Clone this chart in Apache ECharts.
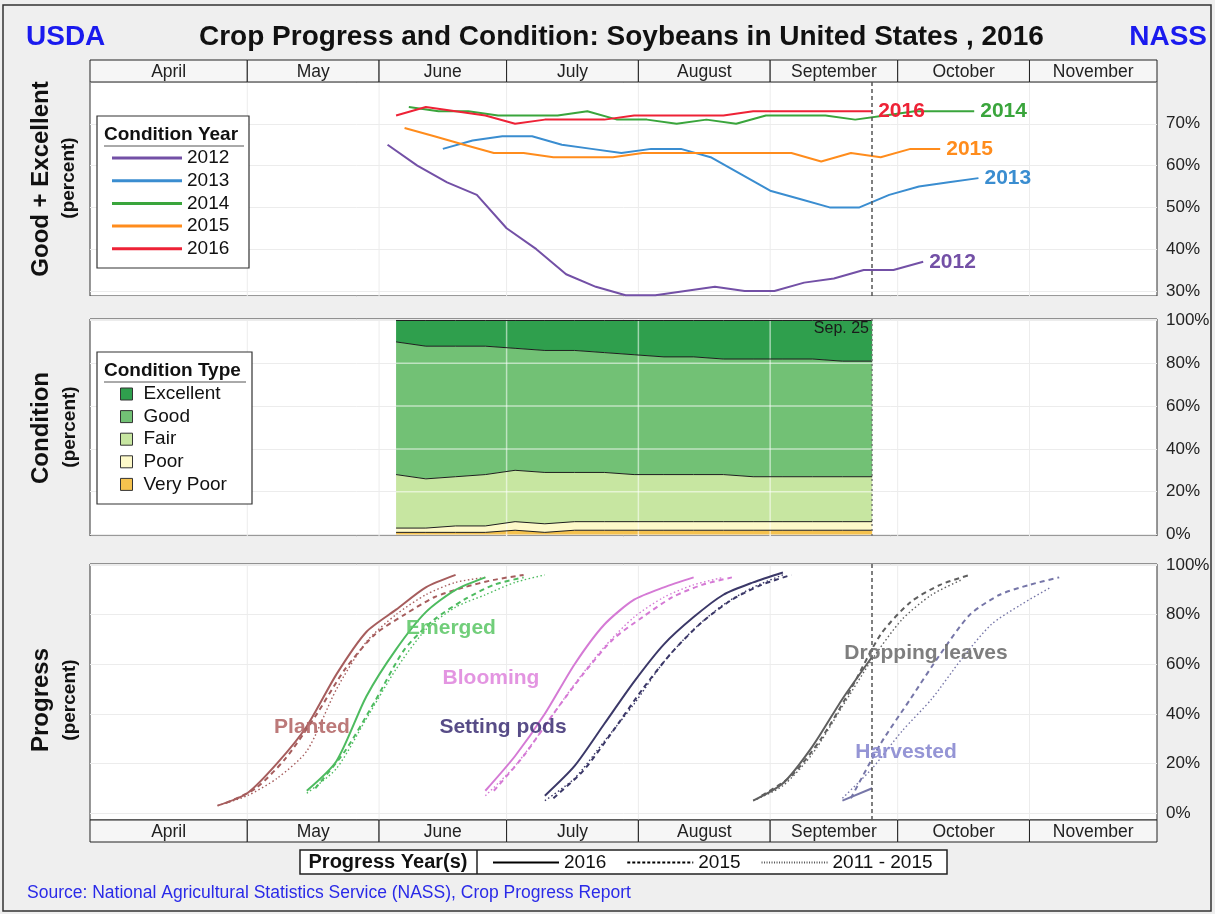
<!DOCTYPE html>
<html>
<head>
<meta charset="utf-8">
<title>Crop Progress and Condition: Soybeans in United States, 2016</title>
<script src="https://cdn.jsdelivr.net/npm/echarts@6.0.0/dist/echarts.min.js"></script>
<style>
  html, body { margin: 0; padding: 0; background: #efefef; }
  #chart { width: 1215px; height: 914px; }
</style>
</head>
<body>
<div id="chart"></div>
<script>
const FONT = 'Liberation Sans, Arial, Helvetica, sans-serif';
// all weeks are placed on the 2016 calendar (month-day)
const t = md => new Date(2016, +md.slice(0, 2) - 1, +md.slice(3)).getTime();
const pts = (dates, vals) => dates.map((d, i) => [t(d), vals[i]]);

// month bands
const months = ['April', 'May', 'June', 'July', 'August', 'September', 'October', 'November'];
const monthStart = ['03-25', '05-01', '06-01', '07-01', '08-01', '09-01', '10-01', '11-01'];
const monthEnd = ['05-01', '06-01', '07-01', '08-01', '09-01', '10-01', '11-01', '12-01'];
const monthLines = ['05-01', '06-01', '07-01', '08-01', '09-01', '10-01', '11-01'];
const currentWeek = '09-25';

// Good + Excellent by year
const ge2012Dates = ['06-03', '06-10', '06-17', '06-24', '07-01', '07-08', '07-15', '07-22', '07-29', '08-05', '08-12', '08-19', '08-26', '09-02', '09-09', '09-16', '09-23', '09-30', '10-07'];
const ge2012 = [65, 60, 56, 53, 45, 40, 34, 31, 29, 29, 30, 31, 30, 30, 32, 33, 35, 35, 37];
const ge2013Dates = ['06-16', '06-23', '06-30', '07-07', '07-14', '07-21', '07-28', '08-04', '08-11', '08-18', '08-25', '09-01', '09-08', '09-15', '09-22', '09-29', '10-06', '10-13', '10-20'];
const ge2013 = [64, 66, 67, 67, 65, 64, 63, 64, 64, 62, 58, 54, 52, 50, 50, 53, 55, 56, 57];
const ge2014Dates = ['06-08', '06-15', '06-22', '06-29', '07-06', '07-13', '07-20', '07-27', '08-03', '08-10', '08-17', '08-24', '08-31', '09-07', '09-14', '09-21', '09-28', '10-05', '10-12', '10-19'];
const ge2014 = [74, 73, 73, 72, 72, 72, 73, 71, 71, 70, 71, 70, 72, 72, 72, 71, 72, 73, 73, 73];
const ge2015Dates = ['06-07', '06-14', '06-21', '06-28', '07-05', '07-12', '07-19', '07-26', '08-02', '08-09', '08-16', '08-23', '08-30', '09-06', '09-13', '09-20', '09-27', '10-04', '10-11'];
const ge2015 = [69, 67, 65, 63, 63, 62, 62, 62, 63, 63, 63, 63, 63, 63, 61, 63, 62, 64, 64];
const ge2016Dates = ['06-05', '06-12', '06-19', '06-26', '07-03', '07-10', '07-17', '07-24', '07-31', '08-07', '08-14', '08-21', '08-28', '09-04', '09-11', '09-18', '09-25'];
const ge2016 = [72, 74, 73, 72, 70, 71, 71, 71, 72, 72, 72, 72, 73, 73, 73, 73, 73];

// 2016 condition by type
const condDates = ge2016Dates;
const veryPoor = [1, 1, 1, 1, 2, 1, 2, 2, 2, 2, 2, 2, 2, 2, 2, 2, 2];
const poor = [2, 2, 3, 3, 4, 4, 4, 4, 4, 4, 4, 4, 4, 4, 4, 4, 4];
const fair = [25, 23, 23, 24, 24, 24, 23, 23, 22, 22, 22, 22, 21, 21, 21, 21, 21];
const good = [62, 62, 61, 60, 57, 57, 57, 56, 56, 55, 55, 54, 55, 55, 55, 54, 54];
const excellent = [10, 12, 12, 12, 13, 14, 14, 15, 16, 17, 17, 18, 18, 18, 18, 19, 19];
const condGridY = [20, 40, 60, 80];
const condGridX = ['07-01', '08-01', '09-01'];

// progress
const plant16Dates = ['04-24', '05-01', '05-08', '05-15', '05-22', '05-29', '06-05', '06-12', '06-19'];
const plant16 = [3, 8, 20, 35, 56, 73, 82, 91, 96];
const plant15Dates = ['04-26', '05-03', '05-10', '05-17', '05-24', '05-31', '06-07', '06-14', '06-21', '06-28', '07-05'];
const plant15 = [4, 10, 22, 39, 58, 72, 80, 87, 91, 94, 96];
const plantAvgDates = ['04-24', '05-01', '05-08', '05-15', '05-22', '05-29', '06-05', '06-12', '06-19', '06-26'];
const plantAvg = [3, 7, 14, 25, 50, 69, 80, 88, 93, 95];

const emerg16Dates = ['05-15', '05-22', '05-29', '06-05', '06-12', '06-19', '06-26'];
const emerg16 = [9, 21, 47, 66, 81, 90, 95];
const emerg15Dates = ['05-17', '05-24', '05-31', '06-07', '06-14', '06-21', '06-28', '07-05'];
const emerg15 = [10, 25, 45, 66, 78, 86, 92, 95];
const emergAvgDates = ['05-15', '05-22', '05-29', '06-05', '06-12', '06-19', '06-26', '07-03', '07-10'];
const emergAvg = [8, 18, 38, 58, 74, 83, 88, 93, 96];

const bloom16Dates = ['06-26', '07-03', '07-10', '07-17', '07-24', '07-31', '08-07', '08-14'];
const bloom16 = [9, 23, 40, 60, 76, 86, 91, 95];
const bloom15Dates = ['06-28', '07-05', '07-12', '07-19', '07-26', '08-02', '08-09', '08-16', '08-23'];
const bloom15 = [9, 23, 40, 56, 70, 79, 87, 92, 95];
const bloomAvgDates = ['06-26', '07-03', '07-10', '07-17', '07-24', '07-31', '08-07', '08-14', '08-21'];
const bloomAvg = [7, 19, 35, 52, 67, 79, 87, 92, 95];

const pods16Dates = ['07-10', '07-17', '07-24', '07-31', '08-07', '08-14', '08-21', '08-28', '09-04'];
const pods16 = [7, 19, 36, 53, 68, 79, 88, 93, 97];
const pods15Dates = ['07-12', '07-19', '07-26', '08-02', '08-09', '08-16', '08-23', '08-30', '09-06'];
const pods15 = [6, 17, 33, 50, 65, 77, 86, 92, 96];
const podsAvgDates = ['07-10', '07-17', '07-24', '07-31', '08-07', '08-14', '08-21', '08-28', '09-04'];
const podsAvg = [5, 14, 29, 44, 61, 74, 84, 91, 96];

const drop16Dates = ['08-28', '09-04', '09-11', '09-18', '09-25'];
const drop16 = [5, 12, 27, 46, 63];
const drop15Dates = ['08-30', '09-06', '09-13', '09-20', '09-27', '10-04', '10-11', '10-18'];
const drop15 = [7, 15, 30, 50, 72, 85, 92, 96];
const dropAvgDates = ['08-28', '09-04', '09-11', '09-18', '09-25', '10-02', '10-09', '10-16'];
const dropAvg = [5, 11, 24, 43, 62, 78, 88, 94];

const harv16Dates = ['09-18', '09-25'];
const harv16 = [5, 10];
const harv15Dates = ['09-20', '09-27', '10-04', '10-11', '10-18', '10-25', '11-01', '11-08'];
const harv15 = [6, 28, 46, 64, 80, 88, 92, 95];
const harvAvgDates = ['09-18', '09-25', '10-02', '10-09', '10-16', '10-23', '10-30', '11-06'];
const harvAvg = [6, 18, 33, 46, 62, 76, 84, 91];

const condYears = [
  { name: '2012', color: '#7350a6', dates: ge2012Dates, vals: ge2012 },
  { name: '2013', color: '#3a8dd0', dates: ge2013Dates, vals: ge2013 },
  { name: '2014', color: '#3aa53c', dates: ge2014Dates, vals: ge2014 },
  { name: '2015', color: '#ff8c1c', dates: ge2015Dates, vals: ge2015 },
  { name: '2016', color: '#ee2236', dates: ge2016Dates, vals: ge2016 }
];
const condTypes = [
  { name: 'Very Poor', color: '#f5c24e', vals: veryPoor },
  { name: 'Poor', color: '#fdf9c9', vals: poor },
  { name: 'Fair', color: '#c7e6a1', vals: fair },
  { name: 'Good', color: '#72c175', vals: good },
  { name: 'Excellent', color: '#2f9f4d', vals: excellent }
];
const stages = [
  { name: 'Planted', color: '#a65d5d', d16: plant16Dates, v16: plant16, d15: plant15Dates, v15: plant15, dAvg: plantAvgDates, vAvg: plantAvg },
  { name: 'Emerged', color: '#4dbb5f', d16: emerg16Dates, v16: emerg16, d15: emerg15Dates, v15: emerg15, dAvg: emergAvgDates, vAvg: emergAvg },
  { name: 'Blooming', color: '#d57ad5', d16: bloom16Dates, v16: bloom16, d15: bloom15Dates, v15: bloom15, dAvg: bloomAvgDates, vAvg: bloomAvg },
  { name: 'Setting pods', color: '#3b3868', d16: pods16Dates, v16: pods16, d15: pods15Dates, v15: pods15, dAvg: podsAvgDates, vAvg: podsAvg },
  { name: 'Dropping leaves', color: '#5f5f5f', d16: drop16Dates, v16: drop16, d15: drop15Dates, v15: drop15, dAvg: dropAvgDates, vAvg: dropAvg },
  { name: 'Harvested', color: '#7676a8', d16: harv16Dates, v16: harv16, d15: harv15Dates, v15: harv15, dAvg: harvAvgDates, vAvg: harvAvg }
];
const styles = {
  solid: { width: 2, type: 'solid' },
  dashed: { width: 2, type: [5, 4] },
  dotted: { width: 1.4, type: [1.5, 2.5] }
};

const chart = echarts.init(document.getElementById('chart'));

function bandSeries(idx) {
  return {
    type: 'custom', xAxisIndex: idx, yAxisIndex: idx, silent: true,
    data: months.map((m, i) => [t(monthStart[i]), t(monthEnd[i])]),
    renderItem: (params, api) => {
      const a = api.coord([api.value(0), 1]);
      const b = api.coord([api.value(1), 0]);
      return {
        type: 'group', children: [
          { type: 'rect', shape: { x: a[0], y: a[1], width: b[0] - a[0], height: b[1] - a[1] },
            style: { fill: '#f6f6f6', stroke: '#222', lineWidth: 1 } },
          { type: 'text', style: { text: months[params.dataIndex], x: (a[0] + b[0]) / 2, y: (a[1] + b[1]) / 2 + 1,
            align: 'center', verticalAlign: 'middle', fontSize: 17.5, fontFamily: FONT, fill: '#222' } }
        ]
      };
    }
  };
}

function vGrid(idx, dates, color, z) {
  return {
    type: 'custom', xAxisIndex: idx, yAxisIndex: idx, silent: true, z: z,
    data: dates.map(d => [t(d), 50]),
    renderItem: (params, api) => {
      const cs = params.coordSys;
      const x = api.coord([api.value(0), 50])[0];
      return { type: 'line', shape: { x1: x, y1: cs.y, x2: x, y2: cs.y + cs.height },
        style: { stroke: color, lineWidth: color.indexOf('255') > 0 ? 1.5 : 1 } };
    }
  };
}

const weekLine = {
  silent: true, symbol: ['none', 'none'], label: { show: false },
  lineStyle: { color: '#555', type: [4, 3], width: 1.5 },
  data: [{ xAxis: t(currentWeek) }]
};

const series = [];
series.push(bandSeries(0), bandSeries(4));
series.push(vGrid(1, monthLines, '#ececec', 1), vGrid(2, monthLines, '#ececec', 1), vGrid(3, monthLines, '#ececec', 1));

// panel 1: good + excellent
condYears.forEach(c => {
  series.push({
    type: 'line', name: c.name, xAxisIndex: 1, yAxisIndex: 1, symbol: 'none',
    data: pts(c.dates, c.vals),
    itemStyle: { color: c.color }, lineStyle: { color: c.color, width: 2 },
    endLabel: { show: true, formatter: '{a}', color: c.color, fontSize: 21, fontWeight: 'bold', fontFamily: FONT, distance: 6 },
    markLine: c.name === '2016' ? weekLine : undefined
  });
});

// panel 2: condition stack
condTypes.forEach(c => {
  series.push({
    type: 'line', name: c.name, xAxisIndex: 2, yAxisIndex: 2, stack: 'cond', symbol: 'none',
    data: pts(condDates, c.vals),
    itemStyle: { color: c.color }, lineStyle: { color: '#1e1e1e', width: 1 },
    areaStyle: { color: c.color, opacity: 1 },
    markLine: c.name === 'Excellent' ? Object.assign({}, weekLine, { lineStyle: { color: '#777', type: [2, 3], width: 1.5 } }) : undefined
  });
});
series.push({
  type: 'custom', xAxisIndex: 2, yAxisIndex: 2, silent: true, z: 3,
  data: condGridY.map(v => [t(condDates[0]), v]),
  renderItem: (params, api) => {
    const p0 = api.coord([t(condDates[0]), api.value(1)]);
    const p1 = api.coord([t(condDates[condDates.length - 1]), api.value(1)]);
    return { type: 'line', shape: { x1: p0[0], y1: p0[1], x2: p1[0], y2: p1[1] },
      style: { stroke: 'rgba(255,255,255,0.55)', lineWidth: 1.5 } };
  }
});
series.push(vGrid(2, condGridX, 'rgba(255,255,255,0.55)', 3));

// panel 3: progress
stages.forEach((s, i) => {
  [['d15', 'v15', 'dashed'], ['dAvg', 'vAvg', 'dotted'], ['d16', 'v16', 'solid']].forEach(k => {
    series.push({
      type: 'line', name: s.name + ' ' + k[2], xAxisIndex: 3, yAxisIndex: 3, symbol: 'none', smooth: 0.25,
      data: pts(s[k[0]], s[k[1]]),
      itemStyle: { color: s.color },
      lineStyle: Object.assign({ color: s.color }, styles[k[2]]),
      markLine: (i === 0 && k[2] === 'solid') ? weekLine : undefined
    });
  });
});
// legend-only series for progress year styles
series.push(
  { type: 'line', name: 'P2016', xAxisIndex: 3, yAxisIndex: 3, symbol: 'none', data: [], itemStyle: { color: '#000' }, lineStyle: { color: '#000', width: 3 } },
  { type: 'line', name: 'P2015', xAxisIndex: 3, yAxisIndex: 3, symbol: 'none', data: [], itemStyle: { color: '#000' }, lineStyle: { color: '#000', width: 2.5, type: [3, 2] } },
  { type: 'line', name: 'P5y', xAxisIndex: 3, yAxisIndex: 3, symbol: 'none', data: [], itemStyle: { color: '#555' }, lineStyle: { color: '#555', width: 1.5, type: [1, 1.5] } }
);

const pctAxis = (idx, min, max, step, lo, hi) => ({
  type: 'value', gridIndex: idx, min: min, max: max, position: 'right', splitNumber: 5,
  axisLine: { show: false }, axisTick: { show: false },
  axisLabel: { margin: 9, fontSize: 17, color: '#222', fontFamily: FONT,
    formatter: v => (Math.abs(v % step) < 1e-6 && v >= lo && v <= hi) ? v + '%' : '' },
  splitLine: { lineStyle: { color: '#ececec', width: 1 } }
});

const timeAxis = idx => ({ type: 'time', gridIndex: idx, min: t('03-25'), max: t('12-01'), show: false });

const legendNames = { P2016: '2016', P2015: '2015', P5y: '2011 - 2015' };

const txt = (text, x, y, size, opts) => Object.assign({
  type: 'text', x: x, y: y, z: 10,
  style: { text: text, align: 'center', verticalAlign: 'middle', fontSize: size, fontWeight: 'bold', fontFamily: FONT, fill: '#111' }
}, opts || {});

const labelColors = { 'Planted': '#b56a6a', 'Emerged': '#62c96c', 'Blooming': '#e08ade', 'Setting pods': '#45387a', 'Dropping leaves': '#707070', 'Harvested': '#8a8ad0' };
const labelPos = { 'Planted': [312, 727], 'Emerged': [451, 628], 'Blooming': [491, 678], 'Setting pods': [503, 727], 'Dropping leaves': [926, 653], 'Harvested': [906, 752] };

const graphic = [
  { type: 'rect', shape: { x: 3, y: 5, width: 1208, height: 906 }, style: { fill: 'none', stroke: '#333', lineWidth: 1.5 }, z: 0 },
  txt('Good + Excellent', 41, 179, 24, { rotation: Math.PI / 2 }),
  txt('(percent)', 69, 178, 19, { rotation: Math.PI / 2 }),
  txt('Condition', 41, 428, 24, { rotation: Math.PI / 2 }),
  txt('(percent)', 70, 427, 19, { rotation: Math.PI / 2 }),
  txt('Progress', 41, 700, 24, { rotation: Math.PI / 2 }),
  txt('(percent)', 70, 700, 19, { rotation: Math.PI / 2 }),
  // condition year legend box
  { type: 'rect', z: 3, shape: { x: 97, y: 116, width: 152, height: 152 }, style: { fill: '#fff', stroke: '#333', lineWidth: 1.2 } },
  txt('Condition Year', 104, 135, 19, { style: { text: 'Condition Year', align: 'left', verticalAlign: 'middle', fontSize: 19, fontWeight: 'bold', fontFamily: FONT, fill: '#111' } }),
  { type: 'line', z: 4, shape: { x1: 104, y1: 146, x2: 244, y2: 146 }, style: { stroke: '#555', lineWidth: 1 } },
  // condition type legend box
  { type: 'rect', z: 3, shape: { x: 97, y: 352, width: 155, height: 152 }, style: { fill: '#fff', stroke: '#333', lineWidth: 1.2 } },
  txt('Condition Type', 104, 371, 19, { style: { text: 'Condition Type', align: 'left', verticalAlign: 'middle', fontSize: 19, fontWeight: 'bold', fontFamily: FONT, fill: '#111' } }),
  { type: 'line', z: 4, shape: { x1: 104, y1: 382, x2: 246, y2: 382 }, style: { stroke: '#555', lineWidth: 1 } },
  // progress years legend box
  { type: 'rect', z: 3, shape: { x: 300, y: 850, width: 647, height: 24 }, style: { fill: '#fff', stroke: '#222', lineWidth: 1.5 } },
  { type: 'line', z: 4, shape: { x1: 477, y1: 850, x2: 477, y2: 874 }, style: { stroke: '#222', lineWidth: 1.5 } },
  txt('Progress Year(s)', 388, 862, 20),
  txt('Sep. 25', 869, 329, 16, { style: { text: 'Sep. 25', align: 'right', verticalAlign: 'middle', fontSize: 16, fontFamily: FONT, fill: '#1a1a1a' } })
];
stages.forEach(s => {
  graphic.push(txt(s.name, labelPos[s.name][0], labelPos[s.name][1], 21,
    { style: { text: s.name, align: 'center', verticalAlign: 'middle', fontSize: 21, fontWeight: 'bold', fontFamily: FONT, fill: labelColors[s.name], opacity: 0.9 } }));
});

chart.setOption({
  animation: false,
  backgroundColor: '#efefef',
  textStyle: { fontFamily: FONT },
  title: [
    { text: 'Crop Progress and Condition: Soybeans in United States , 2016', left: 199, top: 23, padding: 0,
      textStyle: { fontSize: 28, fontWeight: 'bold', color: '#111', fontFamily: FONT } },
    { text: 'USDA', left: 26, top: 23, padding: 0, textStyle: { fontSize: 28, fontWeight: 'bold', color: '#1a1aee', fontFamily: FONT } },
    { text: 'NASS', right: 8, top: 23, padding: 0, textStyle: { fontSize: 28, fontWeight: 'bold', color: '#1a1aee', fontFamily: FONT } },
    { text: 'Source: National Agricultural Statistics Service (NASS), Crop Progress Report', left: 27, top: 884, padding: 0,
      textStyle: { fontSize: 17.5, fontWeight: 'normal', color: '#2a2ae8', fontFamily: FONT } }
  ],
  legend: [
    { data: ['2012', '2013', '2014', '2015', '2016'], orient: 'vertical', left: 112, top: 148, padding: 0,
      icon: 'rect', itemWidth: 70, itemHeight: 3, itemGap: 2.7, selectedMode: false, z: 5,
      textStyle: { fontSize: 19, lineHeight: 20, color: '#111', fontFamily: FONT } },
    { data: ['Excellent', 'Good', 'Fair', 'Poor', 'Very Poor'], orient: 'vertical', left: 120, top: 384, padding: 0,
      icon: 'rect', itemWidth: 12, itemHeight: 12, itemGap: 2.6, selectedMode: false, z: 5,
      itemStyle: { borderColor: '#333', borderWidth: 1 },
      textStyle: { fontSize: 19, lineHeight: 20, color: '#111', fontFamily: FONT, padding: [0, 0, 0, 6] } },
    { data: ['P2016', 'P2015', 'P5y'], orient: 'horizontal', left: 492, top: 853, padding: 0,
      itemWidth: 66, itemHeight: 4, itemGap: 20, selectedMode: false, z: 5,
      itemStyle: { opacity: 0 },
      formatter: name => legendNames[name],
      textStyle: { fontSize: 19, lineHeight: 18, color: '#111', fontFamily: FONT } }
  ],
  grid: [
    { left: 90, right: 58, top: 60, height: 22, show: false },
    { left: 90, right: 58, top: 82, height: 214, show: true, backgroundColor: '#fff', borderColor: '#333', borderWidth: 1 },
    { left: 90, right: 58, top: 319, height: 217, show: true, backgroundColor: '#fff', borderColor: '#333', borderWidth: 1 },
    { left: 90, right: 58, top: 564, height: 256, show: true, backgroundColor: '#fff', borderColor: '#333', borderWidth: 1 },
    { left: 90, right: 58, top: 820, height: 22, show: false }
  ],
  xAxis: [timeAxis(0), timeAxis(1), timeAxis(2), timeAxis(3), timeAxis(4)],
  yAxis: [
    { type: 'value', gridIndex: 0, min: 0, max: 1, show: false },
    pctAxis(1, 28.8, 80, 10, 30, 70),
    pctAxis(2, -0.7, 100.7, 20, 0, 100),
    pctAxis(3, -2.8, 100.4, 20, 0, 100),
    { type: 'value', gridIndex: 4, min: 0, max: 1, show: false }
  ],
  graphic: graphic,
  series: series
});
</script>
</body>
</html>
